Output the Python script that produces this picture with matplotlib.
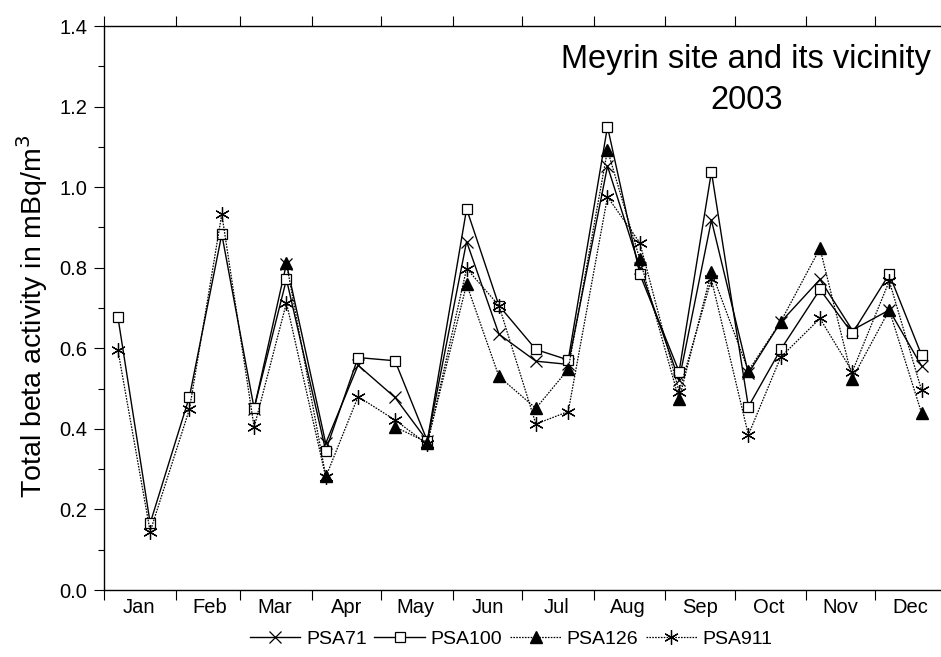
import datetime as dt

import numpy as np
import matplotlib

matplotlib.use("Agg")
import matplotlib.pyplot as plt
import matplotlib.dates as mdates
from matplotlib.ticker import MultipleLocator, FormatStrFormatter, NullFormatter

nan = np.nan

# sampling dates: 7th and 21st of each month, 2003
months = list(range(1, 13))
sample_days = [7, 21]

psa71 = [nan, nan, nan, nan, 0.45, 0.81, 0.364, 0.558, 0.478, 0.37, 0.865, 0.635,
         0.568, 0.56, 1.052, 0.80, 0.521, 0.918, 0.538, 0.665, 0.771, 0.645, 0.695, 0.556]
psa100 = [0.678, 0.166, 0.480, 0.883, 0.451, 0.771, 0.346, 0.577, 0.569, 0.37, 0.946, 0.706,
          0.597, 0.571, 1.150, 0.784, 0.542, 1.038, 0.455, 0.597, 0.746, 0.637, 0.784, 0.583]
psa126 = [nan, nan, nan, nan, nan, 0.811, 0.283, nan, 0.405, 0.366, 0.759, 0.53,
          0.451, 0.548, 1.092, 0.821, 0.473, 0.790, 0.544, 0.666, 0.848, 0.525, 0.695, 0.439]
psa911 = [0.596, 0.145, 0.449, 0.933, 0.404, 0.713, 0.28, 0.48, 0.422, 0.362, 0.798, 0.706,
          0.412, 0.443, 0.976, 0.862, 0.492, 0.771, 0.385, 0.578, 0.674, 0.542, 0.767, 0.496]

dates = [dt.date(2003, m, d) for m in months for d in sample_days]

plt.rcParams["font.family"] = ["Liberation Sans", "DejaVu Sans"]

fig = plt.figure(figsize=(9.41, 6.57), dpi=100)
ax = fig.add_axes([104 / 941, 67 / 657, 843 / 941, 564 / 657])

dotted = (0, (1.3, 1.0))
ax.plot(dates, psa71, color="black", linewidth=1.0, marker="x", markersize=8.5,
        markeredgewidth=0.9, label="PSA71")
ax.plot(dates, psa100, color="black", linewidth=1.0, marker="s", markersize=7.5,
        markerfacecolor="white", markeredgewidth=0.9, label="PSA100")
ax.plot(dates, psa126, color="black", linewidth=0.9, linestyle=dotted, marker="^",
        markersize=8.5, markerfacecolor="black", label="PSA126")
ax.plot(dates, psa911, color="black", linewidth=0.9, linestyle=dotted, marker=(6, 2, 0),
        markersize=10.5, markeredgewidth=0.9, label="PSA911")

ax.set_xlim(dt.date(2003, 1, 1), dt.date(2004, 1, 1))
ax.set_ylim(0, 1.4)

ax.xaxis.set_major_locator(mdates.MonthLocator())
ax.xaxis.set_major_formatter(NullFormatter())
ax.xaxis.set_minor_locator(mdates.MonthLocator(bymonthday=16))
ax.xaxis.set_minor_formatter(mdates.DateFormatter("%b"))
ax.tick_params(axis="x", which="major", direction="out", length=7, width=0.8, top=True)
ax.tick_params(axis="x", which="minor", length=0, labelsize=14.5, pad=6)

ax.yaxis.set_major_locator(MultipleLocator(0.2))
ax.yaxis.set_minor_locator(MultipleLocator(0.1))
ax.yaxis.set_major_formatter(FormatStrFormatter("%.1f"))
ax.tick_params(axis="y", which="major", direction="out", length=7, width=0.8,
               labelsize=14.5, pad=5)
ax.tick_params(axis="y", which="minor", direction="out", length=4, width=0.8)

for side in ("left", "bottom", "top"):
    ax.spines[side].set_linewidth(1.0)
ax.spines["right"].set_visible(False)

ax.set_ylabel("Total beta activity in mBq/m$^3$", fontsize=20.5)
ax.yaxis.set_label_coords(-0.064, 0.485)

ax.text(0.762, 0.968, "Meyrin site and its vicinity\n2003", transform=ax.transAxes,
        ha="center", va="top", fontsize=23.5, linespacing=1.4)

fig.legend(loc="center", bbox_to_anchor=(0.543, 0.027), ncol=4, frameon=False,
           fontsize=14, handlelength=2.6, handletextpad=0.3, columnspacing=0.4,
           numpoints=1)

fig.savefig("out.png", dpi=100)
plt.close(fig)
